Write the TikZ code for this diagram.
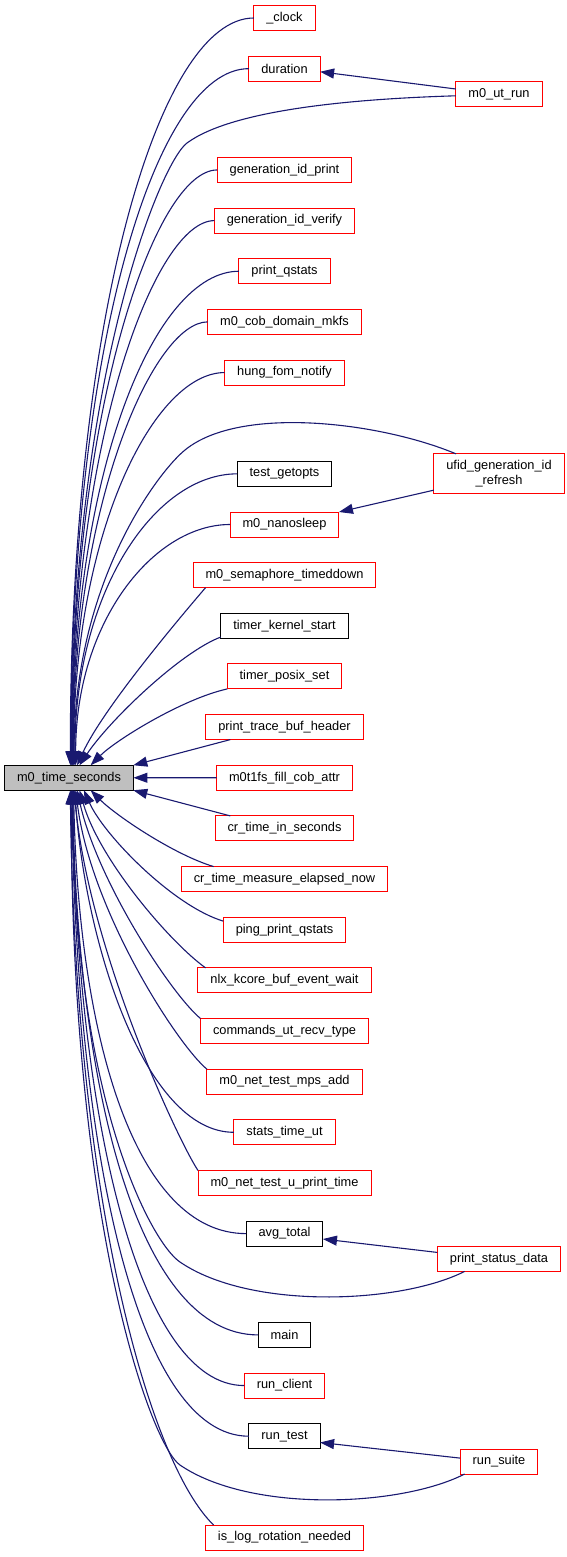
\documentclass[tikz,border=0pt]{standalone}
\usepackage{fontspec}
\setmainfont{Liberation Sans}
\usepackage{xcolor}
\usetikzlibrary{arrows.meta, positioning}
\definecolor{edgeblue}{HTML}{191970}
\definecolor{focusgray}{HTML}{BFBFBF}

\begin{document}
\begin{tikzpicture}[
    x=1pt, y=-1pt,
    node distance=25.65pt,
    fn/.style={draw=red, line width=1pt, outer sep=0pt, minimum height=25pt, inner xsep=12.5pt, inner ysep=2pt, align=center, font=\fontsize{12.8}{15}\selectfont},
    fnblack/.style={fn, draw=black},
    focus/.style={fn, draw=black, fill=focusgray},
    calledge/.style={draw=edgeblue, line width=1.1pt, -{Triangle[length=14pt, width=10pt]}}
]
\useasboundingbox (0,0) rectangle (567,1557);

% callee
\node (mts) [focus] at (69,777.75) {m0\_time\_seconds};

% direct callers
\node (clock) [fn] at (284.5,18) {\_clock};
\node (duration) [fn, below=of clock] {duration};
\node (genprint) [fn, below=76.3pt of duration] {generation\_id\_print};
\node (genverify) [fn, below=of genprint] {generation\_id\_verify};
\node (printqstats) [fn, below=of genverify] {print\_qstats};
\node (cobmkfs) [fn, below=of printqstats] {m0\_cob\_domain\_mkfs};
\node (hungfom) [fn, below=of cobmkfs] {hung\_fom\_notify};
\node (testgetopts) [fnblack, below=76.3pt of hungfom] {test\_getopts};
\node (nanosleep) [fn, below=of testgetopts] {m0\_nanosleep};
\node (semdown) [fn, below=of nanosleep] {m0\_semaphore\_timeddown};
\node (timerkernel) [fnblack, below=of semdown] {timer\_kernel\_start};
\node (timerposix) [fn, below=of timerkernel] {timer\_posix\_set};
\node (tracehdr) [fn, below=of timerposix] {print\_trace\_buf\_header};
\node (cobattr) [fn, below=of tracehdr] {m0t1fs\_fill\_cob\_attr};
\node (crseconds) [fn, below=of cobattr] {cr\_time\_in\_seconds};
\node (crelapsed) [fn, below=of crseconds] {cr\_time\_measure\_elapsed\_now};
\node (pingqstats) [fn, below=of crelapsed] {ping\_print\_qstats};
\node (nlxwait) [fn, below=of pingqstats] {nlx\_kcore\_buf\_event\_wait};
\node (recvtype) [fn, below=of nlxwait] {commands\_ut\_recv\_type};
\node (mpsadd) [fn, below=of recvtype] {m0\_net\_test\_mps\_add};
\node (statsut) [fn, below=of mpsadd] {stats\_time\_ut};
\node (uprint) [fn, below=of statsut] {m0\_net\_test\_u\_print\_time};
\node (avgtotal) [fnblack, below=of uprint] {avg\_total};
\node (main) [fnblack, below=76.3pt of avgtotal] {main};
\node (runclient) [fn, below=of main] {run\_client};
\node (runtest) [fnblack, below=of runclient] {run\_test};
\node (logrot) [fn, below=76.3pt of runtest] {is\_log\_rotation\_needed};

% second level callers
\node (utrun) [fn] at (499,94.3) {m0\_ut\_run};
\node (ufid) [fn, minimum height=40pt] at (499,473.9) {ufid\_generation\_id\\\_refresh};
\node (statusdata) [fn] at (499,1258.9) {print\_status\_data};
\node (runsuite) [fn] at (499,1461.5) {run\_suite};

% edges above the callee
\draw[calledge] (clock.west) .. controls +(-95,0) and +(0,-448) .. (mts.84);
\draw[calledge] (duration.west) .. controls +(-94,0) and +(0,-417) .. (mts.82);
\draw[calledge] (utrun.182) .. controls (350,99) and (232,110) .. (187,143)
    .. controls (160,163) and (71.2,380) .. (mts.80);
\draw[calledge] (genprint.west) .. controls +(-62,0) and +(0,-356) .. (mts.78);
\draw[calledge] (genverify.west) .. controls +(-59,0) and +(0,-326) .. (mts.76);
\draw[calledge] (printqstats.west) .. controls +(-84,0) and +(0,-296) .. (mts.74);
\draw[calledge] (cobmkfs.west) .. controls +(-53,0) and +(0,-265) .. (mts.72);
\draw[calledge] (hungfom.west) .. controls +(-70,0) and +(0,-235) .. (mts.70);
\draw[calledge] (ufid.155) .. controls (380,422) and (240,405) .. (185,450)
    .. controls (160,470) and (74,580) .. (mts.68);
\draw[calledge] (testgetopts.west) .. controls +(-82,0) and +(0,-174) .. (mts.65);
\draw[calledge] (nanosleep.west) .. controls +(-76,0) and +(0,-144) .. (mts.62);
\draw[calledge] (semdown.189) .. controls +(-30,35) and +(25,-55) .. (mts.57);
\draw[calledge] (timerkernel.190) .. controls +(-40,15) and +(30,-45) .. (mts.50);
\draw[calledge] (timerposix.south west) .. controls +(-45,10) and +(25,-25) .. (mts.30);
\draw[calledge] (tracehdr.193) -- (mts.11);
\draw[calledge] (cobattr.west) -- (mts.east);

% edges below the callee
\draw[calledge] (crseconds.167) -- (mts.-11);
\draw[calledge] (crelapsed.170) .. controls +(-40,-12) and +(25,25) .. (mts.-30);
\draw[calledge] (pingqstats.172) .. controls +(-50,-15) and +(20,45) .. (mts.-40);
\draw[calledge] (nlxwait.171) .. controls +(-35,-25) and +(20,70) .. (mts.-50);
\draw[calledge] (recvtype.north west) .. controls +(-30,-25) and +(20,90) .. (mts.-57);
\draw[calledge] (mpsadd.north west) .. controls +(-30,-25) and +(15,120) .. (mts.-62);
\draw[calledge] (statsut.west) .. controls +(-90,0) and +(10,150) .. (mts.-65);
\draw[calledge] (uprint.north west) .. controls +(-20,-30) and +(15,160) .. (mts.-68);
\draw[calledge] (avgtotal.west) .. controls +(-110,0) and +(5,250) .. (mts.-70);
\draw[calledge] (statusdata.200) .. controls (400,1304) and (250,1310) .. (180,1262)
    .. controls (152,1243.6) and (73,1100) .. (mts.-72);
\draw[calledge] (main.west) .. controls +(-120,0) and +(5,300) .. (mts.-74);
\draw[calledge] (runclient.west) .. controls +(-105,0) and +(5,330) .. (mts.-76);
\draw[calledge] (runtest.west) .. controls +(-110,0) and +(5,370) .. (mts.-78);
\draw[calledge] (runsuite.200) .. controls (400,1507) and (250,1513) .. (180,1465)
    .. controls (152,1446) and (71,1230) .. (mts.-80);
\draw[calledge] (logrot.170) .. controls +(-62,-60) and +(5,420) .. (mts.-84);

% edges between callers
\draw[calledge] (utrun.173) -- (duration.-5);
\draw[calledge] (ufid.194) -- (nanosleep.north east);
\draw[calledge] (statusdata.174) -- (avgtotal.-8);
\draw[calledge] (runsuite.175) -- (runtest.-10);
\end{tikzpicture}
\end{document}
